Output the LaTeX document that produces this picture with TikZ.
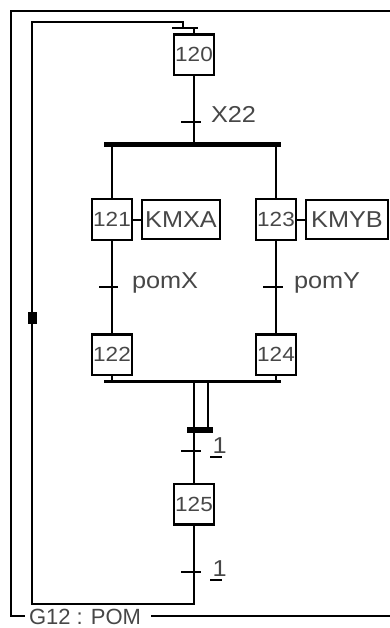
\documentclass[tikz,border=0pt]{standalone}
\usepackage{fontspec}
\setmainfont{Liberation Sans}
\newcommand{\wtxt}[1]{\scalebox{1.1}[1]{#1}}
\begin{document}
\begin{tikzpicture}[x=1pt,y=-1pt,line width=2pt,
  txt/.style={text=black!72},
  stepbox/.style={draw,line width=2.3pt,minimum width=40pt,minimum height=40.5pt,inner sep=0pt,txt,font=\fontsize{20.5}{20.5}\selectfont},
  actbox/.style={draw,line width=2.3pt,minimum height=39pt,inner sep=0pt,txt,font=\fontsize{23}{23}\selectfont},
  lbl/.style={anchor=base west,inner sep=0pt,txt,font=\fontsize{23}{23}\selectfont},
  tick/.style={line width=2pt},
  thickbar/.style={line width=5pt},
  thinbar/.style={line width=2.7pt}]
\useasboundingbox (0,0) rectangle (390,628);
% outer frame
\draw (395,11) -- (11,11) -- (11,616) -- (25,616);
\draw (151,616) -- (395,616);
\node[lbl,font=\fontsize{22}{22}\selectfont] (gname) at (28,624.5) {G12 : POM};
% steps
\node[stepbox] (s120) at (194,54.7) {\wtxt{120}};
\node[stepbox] (s121) at (112,219.5) {\wtxt{121}};
\node[stepbox] (s123) at (276,219.5) {\wtxt{123}};
\node[stepbox] (s122) at (112,354.7) {\wtxt{122}};
\node[stepbox] (s124) at (276,354.7) {\wtxt{124}};
\node[stepbox] (s125) at (194,504.2) {\wtxt{125}};
% actions
\node[actbox,minimum width=78pt] (a121) at (181,219.5) {\wtxt{KMXA}};
\node[actbox,minimum width=82pt] (a123) at (347,219.5) {\wtxt{KMYB}};
\draw (s121.east) -- (a121.west);
\draw (s123.east) -- (a123.west);
% top link bar
\coordinate (tb) at (194,28);
\draw[thinbar] (172,28) -- (198,28);
\draw (tb) -- (s120.north);
% transition X22 and divergence
\coordinate (div) at (194,144.5);
\draw (s120.south) -- (div);
\draw[tick] (181,122) -- (201,122);
\node[lbl] (tX22) at (210,123) {\wtxt{X22}};
\draw[thickbar] (104,144.5) -- (281,144.5);
\coordinate (divL) at (112,144.5);
\coordinate (divR) at (276,144.5);
\draw (divL) -- (s121.north);
\draw (divR) -- (s123.north);
% branch transitions
\draw (s121.south) -- (s122.north);
\draw (s123.south) -- (s124.north);
\draw[tick] (99,287) -- (118,287);
\draw[tick] (263,287) -- (283,287);
\node[lbl] (tpomX) at (131,288) {\wtxt{pomX}};
\node[lbl] (tpomY) at (293,288) {\wtxt{pomY}};
% convergence
\coordinate (cvL) at (112,381.3);
\coordinate (cvR) at (276,381.3);
\draw (s122.south) -- (cvL);
\draw (s124.south) -- (cvR);
\draw[thinbar] (104,381.3) -- (281,381.3);
\coordinate (c1) at (194,381.3);
\coordinate (c2) at (208.3,381.3);
\coordinate (b1) at (194,430);
\coordinate (b2) at (208.3,430);
\draw (c1) -- (b1);
\draw (c2) -- (b2);
\draw[line width=5.5pt] (187,430) -- (213,430);
\draw (b1) -- (s125.north);
\draw[tick] (181,451.2) -- (201,451.2);
\node[lbl] (t1a) at (211.5,453) {\wtxt{1}};
\draw (210,457) -- (222,457);
% loop back
\coordinate (lp1) at (194,604);
\coordinate (lp2) at (32,604);
\coordinate (lp3) at (32,22);
\coordinate (lp4) at (183,22);
\coordinate (lp5) at (183,28);
\draw (s125.south) -- (lp1) -- (lp2) -- (lp3) -- (lp4) -- (lp5);
\draw[tick] (181,572) -- (201,572);
\node[lbl] (t1b) at (211.5,576) {\wtxt{1}};
\draw (210,580) -- (222,580);
\fill (28,312) rectangle (37,324);
\end{tikzpicture}
\end{document}
